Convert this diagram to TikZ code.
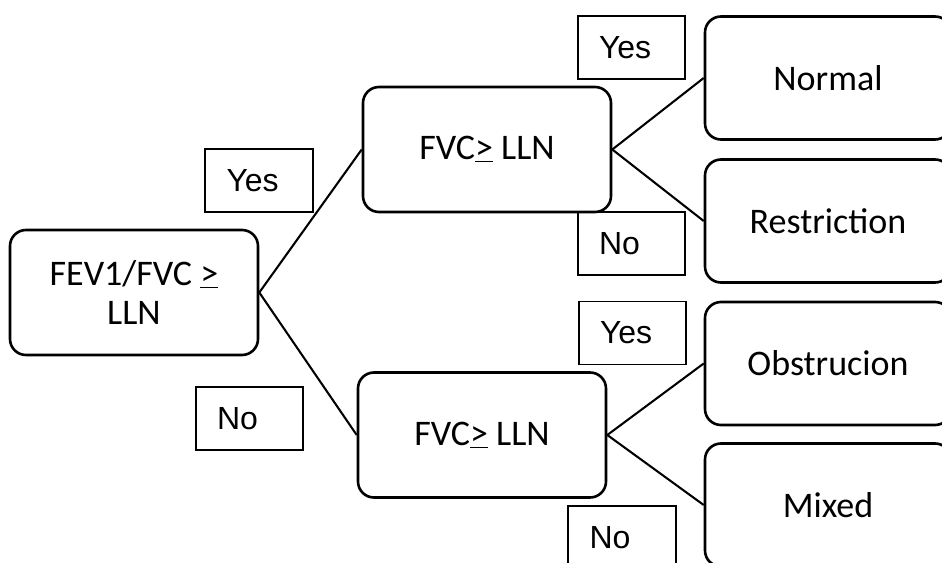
\documentclass[tikz,border=0pt]{standalone}
\usepackage{fontspec}
\setmainfont{Carlito}
\newfontfamily\answerfont{Liberation Sans}

\begin{document}
\begin{tikzpicture}[x=0.75pt,y=-0.75pt,
  decision/.style={draw, line width=1.95pt, rounded corners=12pt,
    minimum width=186pt, minimum height=93.75pt, inner sep=0pt,
    align=center, font=\fontsize{27}{29.5}\selectfont},
  outcome/.style={decision, minimum width=184.5pt, minimum height=92.25pt},
  answer/.style={draw, line width=1.45pt, minimum height=47.25pt,
    text width=48.75pt, inner xsep=16pt, inner ysep=0pt, align=left,
    font=\answerfont\fontsize{24}{27}\selectfont},
  link/.style={line width=1.55pt}]

  % page frame
  \useasboundingbox (0,0) rectangle (942,563);
  \fill[white] (0,0) rectangle (942,563);
  \clip (0,0) rectangle (942,563);

  % decision boxes
  \node[decision] (root)  at (134,292.5) {FEV1/FVC \underline{>}\\LLN};
  \node[decision] (upper) at (487,149.5) {FVC\underline{>} LLN};
  \node[decision] (lower) at (482,435)   {FVC\underline{>} LLN};

  % outcomes (run past the right and bottom edge)
  \node[outcome] (normal) at (828,78)    {Normal};
  \node[outcome] (restr)  at (828,221)   {Restriction};
  \node[outcome] (obstr)  at (828,363.5) {Obstrucion};
  \node[outcome] (mixed)  at (828,505)   {Mixed};

  % branches
  \draw[link] (root.east)  -- (upper.west);
  \draw[link] (root.east)  -- (lower.west);
  \draw[link] (upper.east) -- (normal.west);
  \draw[link] (upper.east) -- (restr.west);
  \draw[link] (lower.east) -- (obstr.west);
  \draw[link] (lower.east) -- (mixed.west);

  % branch answers
  \node[answer] (yesA) at (259,180.5)   {Yes};
  \node[answer] (noA)  at (249.5,418.5) {No};
  \node[answer] (yesB) at (631.5,47.5)  {Yes};
  \node[answer] (noB)  at (631.5,243.5) {No};
  \node[answer] (yesC) at (632.5,333)   {Yes};
  \node[answer] (noC)  at (622,537.5)   {No};
\end{tikzpicture}
\end{document}
